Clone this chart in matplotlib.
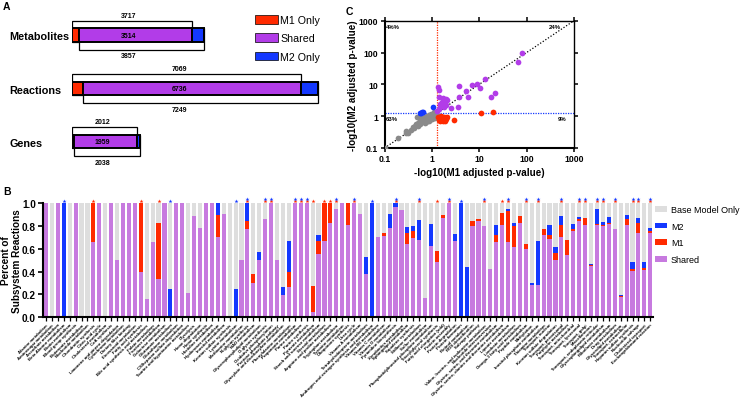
import matplotlib
matplotlib.use('Agg')
import matplotlib.pyplot as plt
import numpy as np
from matplotlib.patches import Patch

plt.rcParams['font.family'] = ['Liberation Sans', 'DejaVu Sans']

# ---------------- Panel A data ----------------
a_categories = ['Metabolites', 'Reactions', 'Genes']
a_m1_total = [3717, 7069, 2012]
a_m2_total = [3857, 7249, 2038]
a_shared = [3514, 6736, 1959]

# ---------------- Panel B data ----------------
b_subsystems = [
    "Alanine metabolism", "Aminosugar metabolism", "Ascorbate metabolism",
    "Beta-Alanine metabolism", "Biotin metabolism", "Blood group synthesis",
    "Butanoate metabolism", "Nucleotide metabolism", "Chondroitin synthesis",
    "Citric acid cycle", "Cholesterol metabolism", "CoA synthesis",
    "Limonene and pinene degradation", "Cytochrome metabolism",
    "Dietary fiber binding", "Eicosanoid metabolism", "Fatty acid synthesis",
    "Bile acid synthesis and metabolism", "Folate metabolism",
    "Fructose metabolism", "Galactose metabolism", "Glutamate metabolism",
    "Glutathione metabolism", "CS/heparan sulfate degradation",
    "Taurine and hypotaurine metabolism", "Glycolysis", "Heme degradation",
    "Heme synthesis", "Histidine metabolism", "Hyaluronan metabolism",
    "Inositol metabolism", "Keratan sulfate synthesis", "Lysine metabolism",
    "Methionine metabolism", "N-glycan synthesis", "NAD metabolism",
    "Glycerophospholipid metabolism", "O-glycan synthesis",
    "Oxidative phosphorylation", "Pentose phosphate pathway",
    "Glyoxylate and dicarboxylate metabolism", "Phenylalanine metabolism",
    "Propanoate metabolism", "Purine catabolism", "Purine synthesis",
    "Pyruvate metabolism", "Starch and sucrose metabolism",
    "Steroid metabolism", "Arginine and proline metabolism",
    "Tryptophan metabolism", "Tyrosine metabolism", "Ubiquinone synthesis",
    "Urea cycle", "Vitamin A metabolism", "Tetrahydrobiopterin metabolism",
    "Androgen and estrogen synthesis and metabolism", "Vitamin B6 metabolism",
    "Vitamin C metabolism", "Vitamin D metabolism", "Pyrimidine biosynthesis",
    "Xenobiotics metabolism", "Sphingolipid metabolism", "Squalene synthesis",
    "Stilbene metabolism", "Sulfur metabolism",
    "Phosphatidylinositol phosphate metabolism", "Triacylglycerol synthesis",
    "Fatty acid elongation (odd)", "Protein assembly", "Protein degradation",
    "Protein formation", "Retinol metabolism", "ROS detoxification",
    "Salvage pathway", "Valine, leucine, and isoleucine metabolism",
    "Nucleotide interconversion", "Glycine, serine, and threonine metabolism",
    "Glycine, serine, alanine and threonine metabolism", "Lipoate metabolism",
    "Linoleate metabolism", "Omega-3 fatty acid metabolism",
    "Peptide metabolism", "Methylation", "Inositol phosphate metabolism",
    "Thiamine metabolism", "Transport, nuclear", "Keratan sulfate degradation",
    "Transport, peroxisomal", "Porphyrin metabolism",
    "Transport, mitochondrial", "Transport, lysosomal", "Transport, golgi",
    "Miscellaneous", "Transport, endoplasmic reticular",
    "Glycosphingolipid metabolism", "Riboflavin metabolism", "Drug metabolism",
    "Glycerolipid metabolism", "Transport, extracellular",
    "Heparan sulfate synthesis", "Nucleotide salvage",
    "Cholesterol transport", "Exchange/demand reaction",
]
b_shared = [
    1, 0, 1, 0, 0, 1, 0, 0, 0.66, 1,
    0, 1, 0.5, 1, 1, 1, 0.40, 0.16, 0.66, 0.33,
    1, 0, 1, 1, 0.21, 0.89, 0.78, 1, 1, 0.70,
    0.91, 0, 0, 0.50, 0.77, 0.30, 0.50, 0.86, 1, 0.50,
    0.19, 0.26, 1, 1, 1, 0.045, 0.55, 0.665, 0.83, 0.95,
    1, 0.81, 1, 0.91, 0.377, 0, 0.70, 0.71, 0.78, 0.97,
    0.94, 0.644, 0.694, 0.674, 0.163, 0.623, 0.487, 0.875, 1, 0.665,
    0, 0, 0.80, 0.843, 0.804, 0.418, 0.656, 0.807, 0.659, 0.614,
    0.83, 0.60, 0.28, 0.28, 0.718, 0.685, 0.504, 0.70, 0.546, 0.754,
    0.843, 0.813, 0.448, 0.813, 0.804, 0.822, 0.77, 0.175, 0.807, 0.407,
    0.742, 0.412, 0.742,
]
b_m1 = [
    0, 0, 0, 0, 0, 0, 0, 0, 0.34, 0,
    0, 0, 0, 0, 0, 0, 0.60, 0, 0, 0.50,
    0, 0, 0, 0, 0, 0, 0, 0, 0, 0.20,
    0, 0, 0, 0, 0.075, 0.077, 0, 0, 0, 0,
    0, 0.14, 0, 0, 0, 0.225, 0.115, 0.335, 0.17, 0,
    0, 0.19, 0, 0, 0, 0, 0, 0.03, 0, 0,
    0, 0.095, 0.06, 0, 0, 0, 0.093, 0.025, 0, 0,
    0, 0, 0.04, 0.023, 0, 0, 0.068, 0.11, 0.273, 0.186,
    0.057, 0.04, 0, 0, 0.052, 0.033, 0.06, 0.107, 0.128, 0.023,
    0.023, 0.059, 0.009, 0.009, 0.009, 0.009, 0, 0.009, 0.051, 0.013,
    0.089, 0.018, 0.012,
]
b_m2 = [
    0, 0, 0, 1, 0, 0, 0, 0, 0, 0,
    0, 0, 0, 0, 0, 0, 0, 0, 0, 0,
    0, 0.25, 0, 0, 0, 0, 0, 0, 0, 0.10,
    0, 0, 0.25, 0, 0.155, 0, 0.07, 0, 0, 0,
    0.07, 0.265, 0, 0, 0, 0, 0.055, 0, 0, 0,
    0, 0, 0, 0, 0.153, 1, 0, 0, 0.125, 0.03,
    0, 0.05, 0.046, 0.176, 0, 0.197, 0, 0, 0, 0.065,
    1, 0.44, 0, 0, 0, 0, 0.083, 0, 0.018, 0.03,
    0, 0, 0.017, 0.39, 0, 0.092, 0.056, 0.083, 0, 0.043,
    0.014, 0, 0.009, 0.128, 0.021, 0.049, 0.006, 0.009, 0.042, 0.06,
    0.044, 0.05, 0.026,
]
b_m1_sig = [8, 16, 19, 34, 37, 38, 42, 43, 44, 45, 47, 48, 49, 52, 59, 63, 66,
            68, 74, 77, 78, 81, 83, 87, 90, 91, 93, 94, 96, 99, 100, 102]
b_m2_sig = [3, 21, 32, 34, 37, 38, 42, 43, 44, 49, 52, 55, 59, 63, 68, 70, 74,
            78, 81, 83, 87, 90, 91, 93, 94, 96, 99, 100, 102]

# ---------------- Panel C data ----------------
c_grey_x = [0.1, 0.195, 0.29, 0.37, 0.28, 0.31, 0.39, 0.46, 0.49, 0.6, 0.68,
            0.8, 0.95, 1.1, 0.87, 1.03, 1.2, 0.57, 0.74, 0.52, 0.55, 0.62,
            0.65, 0.7, 0.72, 0.78, 0.82, 0.85, 0.9, 0.92, 0.98, 1.0, 1.05,
            1.08, 1.12, 1.15, 1.18, 1.22, 1.25, 0.45, 0.5, 0.42, 0.75, 0.88,
            0.66, 0.58, 1.28, 0.96, 0.7]
c_grey_y = [0.1, 0.2, 0.29, 0.38, 0.35, 0.3, 0.45, 0.57, 0.93, 0.86, 0.65,
            1.05, 1.18, 1.34, 0.73, 0.82, 1.05, 0.57, 0.82, 0.62, 0.75, 0.7,
            0.9, 0.78, 0.95, 0.88, 0.75, 0.95, 0.85, 1.0, 0.95, 1.1, 0.9,
            1.2, 1.0, 1.15, 0.9, 1.2, 1.0, 0.5, 0.48, 0.42, 0.68, 1.1,
            0.8, 0.66, 1.12, 0.8, 0.6]
c_blue_x = [0.56, 0.66, 1.06, 0.62, 0.6]
c_blue_y = [1.28, 1.36, 1.93, 1.32, 1.25]
c_red_x = [11, 19.7, 3.0, 1.35, 1.4, 1.5, 1.6, 1.7, 1.8, 1.9, 2.0, 1.45, 1.75,
           1.55, 1.85, 2.1]
c_red_y = [1.24, 1.34, 0.75, 0.95, 0.78, 0.9, 0.75, 0.85, 0.95, 0.72, 0.82,
           0.7, 0.7, 1.0, 0.88, 0.95]
c_purple_x = [80, 65, 13, 8.8, 7.0, 10.5, 5.2, 3.8, 22, 17.5, 5.9, 3.8, 1.36,
              1.42, 1.38, 1.73, 1.98, 1.6, 1.9, 1.47, 1.82, 2.56, 3.55, 1.31,
              2.1, 1.5, 1.7, 1.4, 2.0]
c_purple_y = [97, 52, 15, 10.2, 9.3, 7.8, 6.2, 8.9, 5.4, 4.0, 4.0, 4.0, 8.2,
              6.8, 3.9, 3.8, 3.5, 2.8, 2.8, 2.16, 1.93, 1.83, 1.93, 1.5,
              3.2, 2.5, 2.3, 1.7, 2.2]
c_cutoff = 1.3
c_ticks = [0.1, 1, 10, 100, 1000]
c_tick_labels = ['0.1', '1', '10', '100', '1000']
c_quadrants = ['4%%', '24%', '63%', '9%']

# ---------------- styling ----------------
W, H = 748, 402
RED = '#FF2A00'
BLUE = '#1438FF'
PURPLE_A = '#B23CE8'
PURPLE_B = '#C77ADF'
GREY_B = '#DEDEDE'
GREY_C = '#8A8A8A'

fig = plt.figure(figsize=(W / 100, H / 100), dpi=100)

# ================= Panel A =================
px_per_unit = 0.0324
row_px = 53.25
axA = fig.add_axes([72 / W, 1 - 165 / H, 280 / W, 165 / H])
axA.set_xlim(0, 280 / px_per_unit)
axA.set_ylim((165 - 36) / row_px, -36 / row_px)
axA.axis('off')

ys = np.arange(len(a_categories))
m1_tot = np.array(a_m1_total)
m2_tot = np.array(a_m2_total)
shared = np.array(a_shared)
m1_only = m1_tot - shared
m2_only = m2_tot - shared

bh = 13.4 / row_px
top = 14.4 / row_px
bot = 14.8 / row_px
axA.barh(ys + (bh / 2 - top) / 2, m1_tot, height=top + bh / 2, left=0,
         facecolor='white', edgecolor='black', linewidth=0.9)
axA.barh(ys + (bot - bh / 2) / 2, m2_tot, height=bot + bh / 2, left=m1_only,
         facecolor='white', edgecolor='black', linewidth=0.9)
axA.barh(ys, m1_only, height=bh, left=0, color=RED, edgecolor='black', linewidth=1.4)
axA.barh(ys, shared, height=bh, left=m1_only, color=PURPLE_A, edgecolor='black', linewidth=1.4)
axA.barh(ys, m2_only, height=bh, left=m1_only + shared, color=BLUE, edgecolor='black', linewidth=1.4)

for i in range(len(a_categories)):
    xc = 0.47 * m1_tot[i]
    axA.text(xc, ys[i] - 20 / row_px, str(m1_tot[i]), ha='center', va='center',
             fontsize=5, fontweight='bold')
    axA.text(xc, ys[i], str(shared[i]), ha='center', va='center',
             fontsize=5, fontweight='bold')
    axA.text(xc, ys[i] + 21 / row_px, str(m2_tot[i]), ha='center', va='center',
             fontsize=5, fontweight='bold')
    axA.text((9.3 - 72) / 280, ys[i] + 1.5 / row_px, a_categories[i],
             transform=axA.get_yaxis_transform(), ha='left', va='center',
             fontsize=7.8, fontweight='bold')

fig.legend(handles=[Patch(facecolor=RED, edgecolor='black', linewidth=0.5),
                    Patch(facecolor=PURPLE_A, edgecolor='black', linewidth=0.5),
                    Patch(facecolor=BLUE, edgecolor='black', linewidth=0.5)],
           labels=['M1 Only', 'Shared', 'M2 Only'],
           loc='upper left', bbox_to_anchor=(255 / W, 1 - 16 / H),
           frameon=False, fontsize=7.7, handlelength=2.15, handleheight=0.85,
           handletextpad=0.2, labelspacing=0.78, borderpad=0, borderaxespad=0)

# ================= Panel B =================
axB = fig.add_axes([42.7 / W, 1 - 318 / H, 610.3 / W, 113.7 / H])
n = len(b_subsystems)
x = np.arange(n)
s_arr = np.array(b_shared)
m1_arr = np.array(b_m1)
m2_arr = np.array(b_m2)
base_arr = 1 - s_arr - m1_arr - m2_arr
bw = 0.7
axB.bar(x, s_arr, bw, color=PURPLE_B, linewidth=0)
axB.bar(x, m1_arr, bw, bottom=s_arr, color=RED, linewidth=0)
axB.bar(x, m2_arr, bw, bottom=s_arr + m1_arr, color=BLUE, linewidth=0)
axB.bar(x, base_arr, bw, bottom=s_arr + m1_arr + m2_arr, color=GREY_B, linewidth=0)

for i in b_m1_sig:
    axB.scatter(i, 1.018, s=9, marker='*', color=RED, linewidths=0, clip_on=False, zorder=5)
for i in b_m2_sig:
    yy = 1.04 if i in b_m1_sig else 1.018
    axB.scatter(i, yy, s=9, marker='*', color=BLUE, linewidths=0, clip_on=False, zorder=5)

axB.set_xlim(-0.557, 102.46)
axB.set_ylim(0, 1)
axB.set_yticks([0, 0.2, 0.4, 0.6, 0.8, 1.0])
axB.set_yticklabels(['0.0', '0.2', '0.4', '0.6', '0.8', '1.0'],
                    fontsize=7.2, fontweight='bold')
axB.set_xticks(x)
axB.set_xticklabels(b_subsystems, rotation=45, ha='right', rotation_mode='anchor',
                    fontsize=3.1, fontweight='bold')
for sp in ['top', 'right']:
    axB.spines[sp].set_visible(False)
for sp in ['left', 'bottom']:
    axB.spines[sp].set_linewidth(1.5)
axB.tick_params(axis='x', length=3, width=0.9, pad=1)
axB.tick_params(axis='y', length=3.5, width=1.2, pad=1.5)
fig.text(11.5 / W, 1 - 261 / H, 'Percent of\nSubsystem Reactions', rotation=90,
         ha='center', va='center', fontsize=7.2, fontweight='bold',
         multialignment='center', linespacing=1.1)

fig.legend(handles=[Patch(facecolor=GREY_B), Patch(facecolor=BLUE),
                    Patch(facecolor=RED), Patch(facecolor=PURPLE_B)],
           labels=['Base Model Only', 'M2', 'M1', 'Shared'],
           loc='upper left', bbox_to_anchor=(655 / W, 1 - 206 / H),
           frameon=False, fontsize=6.5, handlelength=1.32, handleheight=0.6,
           handletextpad=0.45, labelspacing=0.85, borderpad=0, borderaxespad=0)

# ================= Panel C =================
axC = fig.add_axes([384.5 / W, 1 - 149 / H, 189.5 / W, 127.3 / H])
axC.set_xscale('log')
axC.set_yscale('log')
axC.plot([c_ticks[0], c_ticks[-1]], [c_ticks[0], c_ticks[-1]], color='black',
         linestyle=(0, (1, 1.5)), linewidth=0.9, zorder=1)
axC.axvline(c_cutoff, color=RED, linestyle=(0, (1, 1)), linewidth=0.9, zorder=1)
axC.axhline(c_cutoff, color=BLUE, linestyle=(0, (1, 1)), linewidth=0.9, zorder=1)
ms = 17
axC.scatter(c_grey_x, c_grey_y, s=ms, color=GREY_C, linewidths=0, zorder=3)
axC.scatter(c_blue_x, c_blue_y, s=ms, color=BLUE, linewidths=0, zorder=3)
axC.scatter(c_red_x, c_red_y, s=ms, color=RED, linewidths=0, zorder=3)
axC.scatter(c_purple_x, c_purple_y, s=ms, color=PURPLE_A, linewidths=0, zorder=3)
axC.set_xlim(c_ticks[0], c_ticks[-1])
axC.set_ylim(c_ticks[0], c_ticks[-1])
axC.set_xticks(c_ticks)
axC.set_xticklabels(c_tick_labels, fontsize=6.2, fontweight='bold')
axC.set_yticks(c_ticks)
axC.set_yticklabels(c_tick_labels, fontsize=6.2, fontweight='bold')
axC.minorticks_off()
axC.tick_params(axis='both', length=3, width=1.1, pad=1.5,
                top=True, right=True)
for sp in ['left', 'bottom']:
    axC.spines[sp].set_linewidth(1.5)
for sp in ['top', 'right']:
    axC.spines[sp].set_linewidth(1.0)
axC.set_xlabel('-log10(M1 adjusted p-value)', fontsize=7.1, fontweight='bold')
axC.set_ylabel('-log10(M2 adjusted p-value)', fontsize=7.1, fontweight='bold')
axC.xaxis.set_label_coords(0.5, -(168 - 149) / 127.3)
axC.yaxis.set_label_coords((358 - 384.5) / 189.5, 0.5)

qfs = 4.3
axC.text(0.008, 0.957, c_quadrants[0], transform=axC.transAxes, ha='left', va='center',
         fontsize=qfs, fontweight='bold')
axC.text(0.93, 0.957, c_quadrants[1], transform=axC.transAxes, ha='right', va='center',
         fontsize=qfs, fontweight='bold')
axC.text(0.008, 0.229, c_quadrants[2], transform=axC.transAxes, ha='left', va='center',
         fontsize=qfs, fontweight='bold')
axC.text(0.96, 0.229, c_quadrants[3], transform=axC.transAxes, ha='right', va='center',
         fontsize=qfs, fontweight='bold')

# ================= Panel letters =================
fig.text(3 / W, 1 - 7 / H, 'A', fontsize=7.5, fontweight='bold', ha='left', va='center')
fig.text(3 / W, 1 - 192 / H, 'B', fontsize=7.5, fontweight='bold', ha='left', va='center')
fig.text(345.5 / W, 1 - 12 / H, 'C', fontsize=7.5, fontweight='bold', ha='left', va='center')

fig.savefig('out.png', dpi=100)
